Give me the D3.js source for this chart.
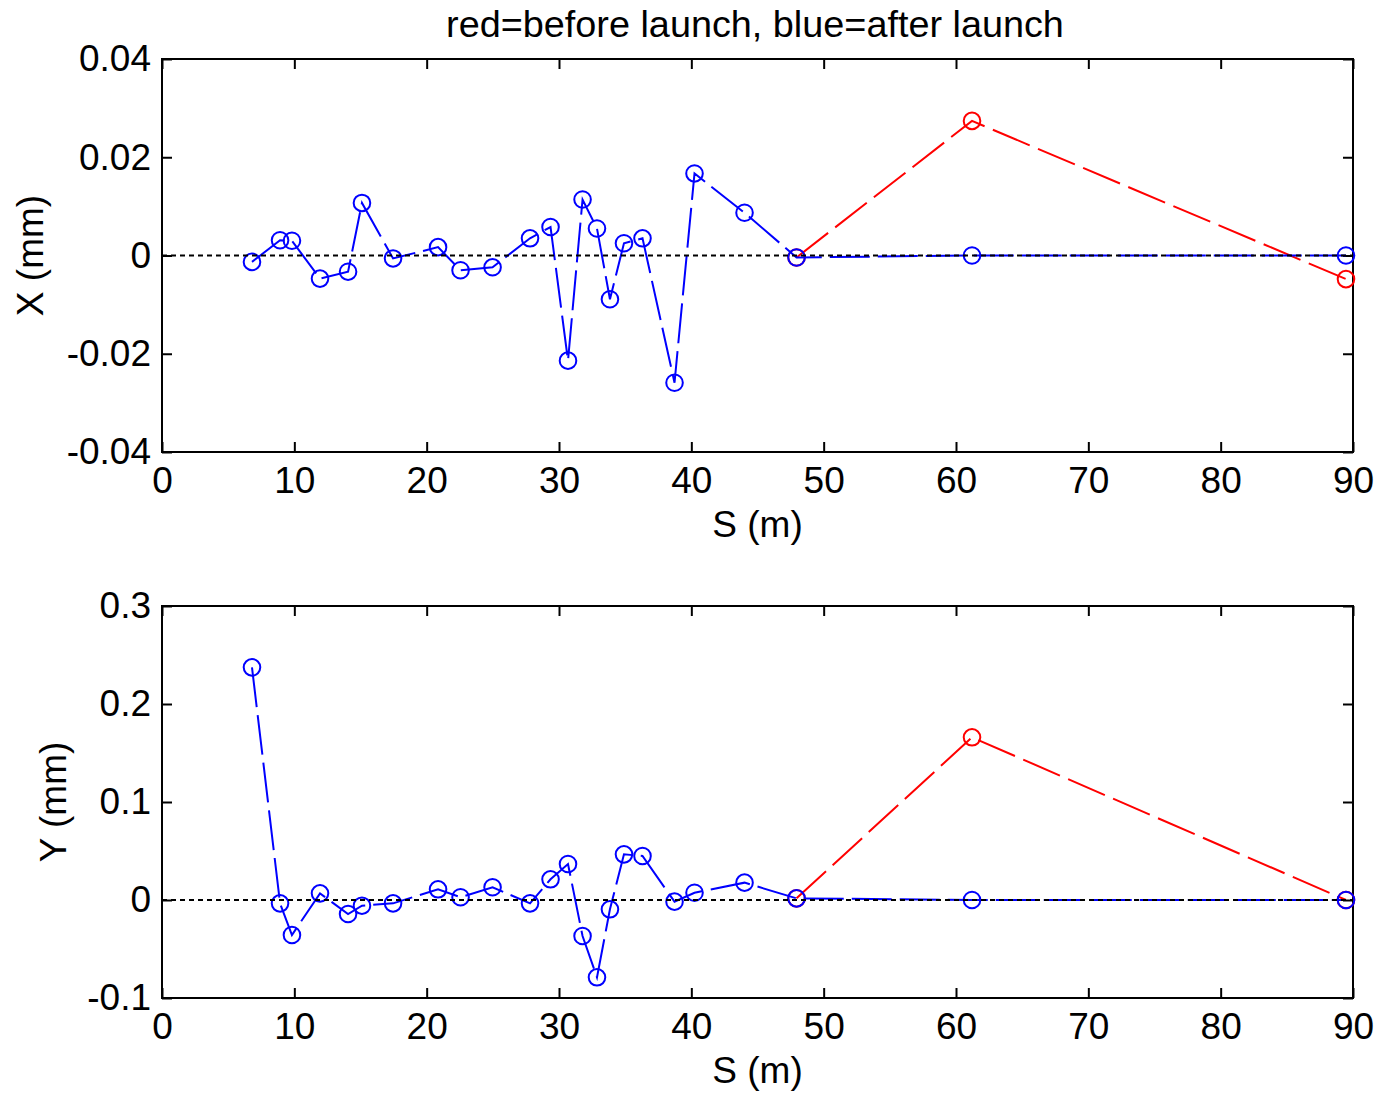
<!DOCTYPE html>
<html>
<head>
<meta charset="utf-8">
<script src="https://cdn.jsdelivr.net/npm/d3@7"></script>
<style>
  html, body { margin: 0; padding: 0; background: #fff; }
  svg { display: block; font-family: "Liberation Sans", Arial, sans-serif; }
</style>
</head>
<body>
<svg id="chart" width="1381" height="1097"></svg>
<script>
// Beam position along the line, S in metres
const sAfter = [6.80, 8.92, 9.82, 11.94, 14.06, 15.11, 17.46, 20.86, 22.56, 24.98,
                27.81, 29.36, 30.68, 31.78, 32.87, 33.85, 34.91, 36.31, 38.73, 40.24,
                44.02, 47.95, 61.21, 89.47];
// Horizontal offset after launch (mm)
const xAfter = [-0.0013, 0.0031, 0.0030, -0.0047, -0.0033, 0.0107, -0.0006, 0.0017, -0.0030, -0.0024,
                0.0035, 0.0058, -0.0214, 0.0114, 0.0055, -0.0089, 0.0025, 0.0035, -0.0259, 0.0167,
                0.0087, -0.0004, 0.0000, 0.0000];
// Vertical offset after launch (mm)
const yAfter = [0.2374, -0.0034, -0.0357, 0.0068, -0.0143, -0.0058, -0.0034, 0.0109, 0.0028, 0.0130,
                -0.0034, 0.0211, 0.0367, -0.0367, -0.0789, -0.0095, 0.0466, 0.0449, -0.0017, 0.0074,
                0.0177, 0.0017, 0.0000, 0.0000];
// Downstream monitors before launch
const sBefore = [47.95, 61.21, 89.47];
const xBefore = [-0.0004, 0.0274, -0.0048];
const yBefore = [0.0017, 0.166, 0.0000];

const xTicks = [0, 10, 20, 30, 40, 50, 60, 70, 80, 90];
const topYTicks = [-0.04, -0.02, 0, 0.02, 0.04];
const topYLabels = ["-0.04", "-0.02", "0", "0.02", "0.04"];
const botYTicks = [-0.1, 0, 0.1, 0.2, 0.3];
const botYLabels = ["-0.1", "0", "0.1", "0.2", "0.3"];

const svg = d3.select("#chart");
const FONT = 37;

svg.append("text")
  .attr("x", 755).attr("y", 37)
  .attr("text-anchor", "middle")
  .attr("font-size", 37.8)
  .text("red=before launch, blue=after launch");

function panel(cfg) {
  const x = d3.scaleLinear().domain([0, 90]).range([162, 1353]);
  const y = d3.scaleLinear().domain(cfg.yDomain).range([cfg.bottom, cfg.top]);
  const g = svg.append("g");

  // frame
  g.append("rect")
    .attr("x", x(0)).attr("y", y.range()[1])
    .attr("width", x(90) - x(0)).attr("height", cfg.bottom - cfg.top)
    .attr("fill", "none").attr("stroke", "#000").attr("stroke-width", 2);

  const axStyle = sel => {
    sel.select(".domain").remove();
    sel.selectAll(".tick line").attr("stroke", "#000").attr("stroke-width", 2);
    sel.selectAll("text").attr("font-size", FONT).attr("fill", "#000")
      .attr("font-family", "Liberation Sans, Arial, sans-serif");
  };

  g.append("g").attr("transform", `translate(0,${cfg.bottom})`)
    .call(d3.axisBottom(x).tickValues(xTicks).tickFormat(d3.format("d"))
      .tickSizeInner(-10).tickSizeOuter(0).tickPadding(15))
    .call(axStyle);
  g.append("g").attr("transform", `translate(0,${cfg.top})`)
    .call(d3.axisTop(x).tickValues(xTicks).tickFormat("")
      .tickSizeInner(-10).tickSizeOuter(0))
    .call(axStyle);
  g.append("g").attr("transform", `translate(${x(0)},0)`)
    .call(d3.axisLeft(y).tickValues(cfg.yTicks)
      .tickFormat((d, i) => cfg.yLabels[i])
      .tickSizeInner(-10).tickSizeOuter(0).tickPadding(11))
    .call(axStyle);
  g.append("g").attr("transform", `translate(${x(90)},0)`)
    .call(d3.axisRight(y).tickValues(cfg.yTicks).tickFormat("")
      .tickSizeInner(-10).tickSizeOuter(0))
    .call(axStyle);

  // axis labels
  g.append("text")
    .attr("x", (x(0) + x(90)) / 2).attr("y", cfg.bottom + 85)
    .attr("text-anchor", "middle").attr("font-size", FONT)
    .text("S (m)");
  g.append("text")
    .attr("transform", `translate(${cfg.yLabelX},${(cfg.top + cfg.bottom) / 2}) rotate(-90)`)
    .attr("text-anchor", "middle").attr("font-size", FONT)
    .text(cfg.yLabel);

  const line = d3.line().x(d => x(d[0])).y(d => y(d[1]));
  const before = sBefore.map((s, i) => [s, cfg.before[i]]);
  const after = sAfter.map((s, i) => [s, cfg.after[i]]);

  g.append("path").attr("d", line(before))
    .attr("fill", "none").attr("stroke", "#ff0000").attr("stroke-width", 2)
    .attr("stroke-dasharray", "40,9");
  g.selectAll("circle.before").data(before).enter().append("circle")
    .attr("class", "before")
    .attr("cx", d => x(d[0])).attr("cy", d => y(d[1])).attr("r", 8.3)
    .attr("fill", "none").attr("stroke", "#ff0000").attr("stroke-width", 2);

  g.append("path").attr("d", line(after))
    .attr("fill", "none").attr("stroke", "#0000ff").attr("stroke-width", 2)
    .attr("stroke-dasharray", "40,8");
  g.selectAll("circle.after").data(after).enter().append("circle")
    .attr("class", "after")
    .attr("cx", d => x(d[0])).attr("cy", d => y(d[1])).attr("r", 8.3)
    .attr("fill", "none").attr("stroke", "#0000ff").attr("stroke-width", 2);

  // zero reference
  g.append("line")
    .attr("x1", x(0)).attr("x2", x(90)).attr("y1", y(0)).attr("y2", y(0))
    .attr("stroke", "#000").attr("stroke-width", 2).attr("stroke-dasharray", "5,4");
}

panel({ top: 59, bottom: 452, yDomain: [-0.04, 0.04], yTicks: topYTicks, yLabels: topYLabels,
        after: xAfter, before: xBefore, yLabel: "X (mm)", yLabelX: 43 });
panel({ top: 606, bottom: 998, yDomain: [-0.1, 0.3], yTicks: botYTicks, yLabels: botYLabels,
        after: yAfter, before: yBefore, yLabel: "Y (mm)", yLabelX: 66 });
</script>
</body>
</html>
